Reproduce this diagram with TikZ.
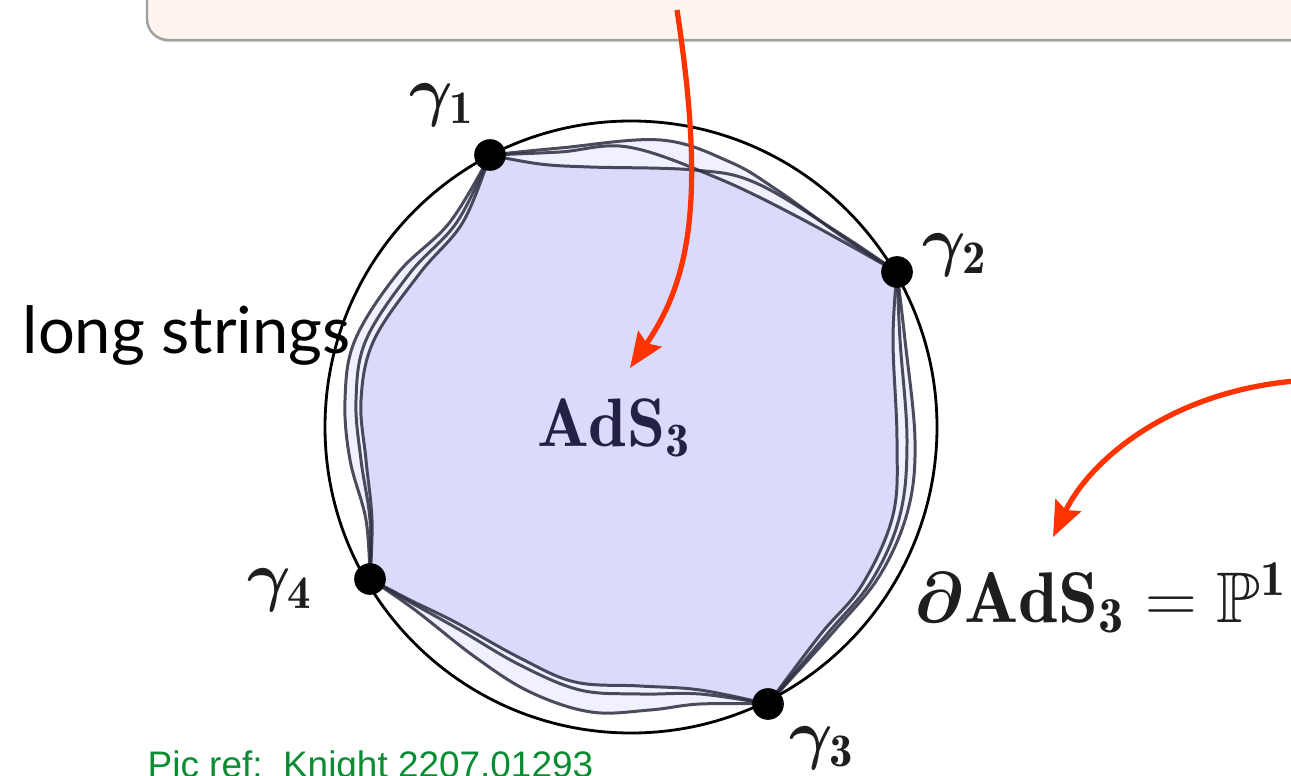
\RequirePackage{fix-cm}
\documentclass[tikz,border=0pt]{standalone}
\usepackage{amsmath,amssymb,bm}
\usepackage{fontspec}
\newfontfamily\lsfont{Lato}
\newfontfamily\refont{Liberation Sans}
\usetikzlibrary{arrows.meta,shadows}
\definecolor{boxfill}{RGB}{255,245,238}
\definecolor{boxline}{RGB}{160,160,160}
\definecolor{arrred}{RGB}{255,51,0}
\definecolor{innerfill}{RGB}{218,218,250}
\definecolor{outerfill}{RGB}{240,240,255}
\definecolor{strcol}{RGB}{45,45,65}
\definecolor{navy}{RGB}{34,34,70}
\definecolor{labcol}{RGB}{30,30,30}
\definecolor{refgreen}{RGB}{10,140,50}
\begin{document}
\begin{tikzpicture}[x=0.01cm,y=-0.01cm,
  stringline/.style={draw=strcol, draw opacity=0.85, line width=0.85pt},
  redarrow/.style={draw=arrred, line width=1.5pt, -{Stealth[length=10pt,width=8pt,inset=1.5pt]}},
  dot/.style={circle, fill=black, inner sep=0pt, minimum size=9pt},
  lab/.style={font=\fontsize{19}{22}\selectfont, text=labcol},
  sm/.style={smooth, tension=0.6}]
\useasboundingbox (0,0) rectangle (1291,776);
% top box
\path[draw=boxline, fill=boxfill, line width=0.7pt, rounded corners=6pt,
  drop shadow={shadow xshift=0.3pt, shadow yshift=-0.6pt, opacity=0.35}] (147,-60) rectangle (1340,40);
% points
\coordinate (p1) at (490,155);
\coordinate (p2) at (897,272);
\coordinate (p3) at (768,704);
\coordinate (p4) at (370,579);
% string polygons
\path[save path=\Pone]
  plot[sm] coordinates {(p1) (560,148) (661,140) (730,162) (777,190) (840,235) (p2)}
  -- plot[sm] coordinates {(p2) (905,340) (915,440) (908,510) (880,575) (835,630) (p3)}
  -- plot[sm] coordinates {(p3) (700,704) (650,710) (591,712) (530,692) (475,657) (415,610) (p4)}
  -- plot[sm] coordinates {(p4) (366,520) (350,460) (345,400) (355,340) (398,273) (450,222) (p1)}
  -- cycle;
\path[save path=\Ptwo]
  plot[sm] coordinates {(p1) (560,152) (628,147) (715,177) (798,217) (p2)}
  -- plot[sm] coordinates {(p2) (900,340) (907,440) (900,515) (872,580) (828,633) (p3)}
  -- plot[sm] coordinates {(p3) (700,694) (640,694) (580,690) (520,665) (460,630) (410,602) (p4)}
  -- plot[sm] coordinates {(p4) (370,520) (361,460) (356,400) (366,340) (410,273) (457,222) (p1)}
  -- cycle;
\path[save path=\Pthree]
  plot[sm] coordinates {(p1) (540,164) (590,167) (694,170) (756,183) (839,233) (p2)}
  -- plot[sm] coordinates {(p2) (893,340) (897,440) (893,515) (862,585) (820,635) (p3)}
  -- plot[sm] coordinates {(p3) (700,690) (640,686) (575,682) (520,658) (455,622) (410,600) (p4)}
  -- plot[sm] coordinates {(p4) (372,520) (366,460) (361,400) (374,340) (420,273) (463,222) (p1)}
  -- cycle;
\fill[outerfill, use path=\Pone];
\fill[outerfill, use path=\Ptwo];
\fill[outerfill, use path=\Pthree];
\begin{scope}
  \clip[use path=\Pone];
  \clip[use path=\Ptwo];
  \fill[innerfill, use path=\Pthree];
\end{scope}
\draw[stringline, use path=\Pone];
\draw[stringline, use path=\Ptwo];
\draw[stringline, use path=\Pthree];
% boundary circle
\draw[line width=0.8pt] (631,427) circle[radius=306];
% dots
\node[dot] (g1) at (p1) {};
\node[dot] (g2) at (p2) {};
\node[dot] (g3) at (p3) {};
\node[dot] (g4) at (p4) {};
% labels
\node[lab] (l1) at (442,105) {$\boldsymbol{\gamma}_{\mathbf{1}}$};
\node[lab] (l2) at (955,255) {$\boldsymbol{\gamma}_{\mathbf{2}}$};
\node[lab] (l3) at (822,748) {$\boldsymbol{\gamma}_{\mathbf{3}}$};
\node[lab] (l4) at (280,590) {$\boldsymbol{\gamma}_{\mathbf{4}}$};
\node[font=\fontsize{19.5}{22}\selectfont, text=navy] (ads) at (614,428) {$\mathbf{AdS}_{\mathbf{3}}$};
\node[font=\fontsize{20.4}{24}\selectfont, text=labcol, anchor=base west, inner sep=0pt] (bdy) at (914,622)
  {$\boldsymbol{\partial}\mathbf{AdS}_{\mathbf{3}}=\mathbb{P}^{\mathbf{1}}$};
\node[font=\lsfont\fontsize{18.5}{22}\selectfont, anchor=base west, inner sep=0pt] (ls) at (22,353) {long strings};
\node[font=\refont\fontsize{10.5}{12}\selectfont, text=refgreen, anchor=base west, inner sep=0pt] (ref) at (147,777)
  {Pic ref:\ \ Knight 2207.01293};
% red arrows
\coordinate (a1s) at (677,10);
\coordinate (a1e) at (630,368);
\coordinate (a2s) at (1295,381);
\coordinate (a2e) at (1053,537);
\draw[redarrow] (a1s) .. controls (706,200) and (690,280) .. (a1e);
\draw[redarrow] (a2s) .. controls (1170,392) and (1090,460) .. (a2e);
\end{tikzpicture}
\end{document}
